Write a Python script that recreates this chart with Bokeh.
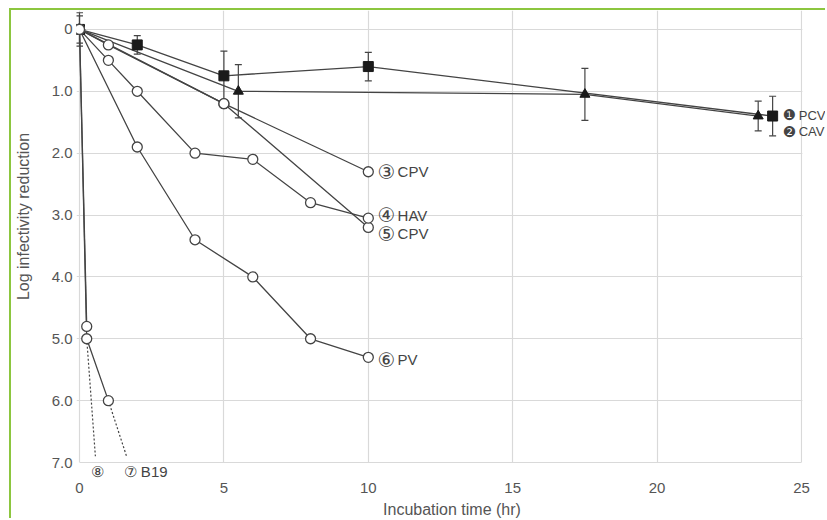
from bokeh.plotting import figure
from bokeh.models import (ColumnDataSource, Whisker, TeeHead, Label, Range1d,
                          FixedTicker, LinearAxis, BoxAnnotation)
from bokeh.embed import file_html
from bokeh.resources import INLINE

# ---- data ----
t_pcv = [0, 2, 5, 10, 24]
pcv = [0, 0.25, 0.75, 0.6, 1.4]
pcv_err = [0.27, 0.15, 0.4, 0.23, 0.32]

t_cav = [0, 5.5, 17.5, 23.5]
cav = [0, 1.0, 1.05, 1.4]
cav_err = [0.22, 0.43, 0.42, 0.24]

t_cpv3 = [0, 1, 5, 10]
cpv3 = [0, 0.25, 1.2, 2.3]

t_hav = [0, 1, 2, 4, 6, 8, 10]
hav = [0, 0.5, 1.0, 2.0, 2.1, 2.8, 3.05]

t_cpv5 = [0, 5, 10]
cpv5 = [0, 1.2, 3.2]

t_pv = [0, 2, 4, 6, 8, 10]
pv = [0, 1.9, 3.4, 4.0, 5.0, 5.3]

t_b19 = [0, 0.25, 1.0]
b19 = [0, 5.0, 6.0]
t_b19_dot = [1.0, 1.63]
b19_dot = [6.0, 6.9]

t_s8 = [0, 0.25]
s8 = [0, 4.8]
t_s8_dot = [0.25, 0.55]
s8_dot = [5.0, 6.9]

# in-plot curve labels
label_x = [24.35, 24.35, 10.32, 10.32, 10.32, 10.32]
label_y = [1.39, 1.65, 2.3, 3.0, 3.3, 5.34]
label_num = ["\u2776", "\u2777", "\u2462", "\u2463", "\u2464", "\u2465"]
label_name = ["PCV", "CAV", "CPV", "HAV", "CPV", "PV"]
label_dx = [16, 16, 20, 20, 20, 20]
label_size = ["13px", "13px", "15px", "15px", "15px", "15px"]
label_num_size = ["15px", "15px", "20px", "20px", "20px", "20px"]

# labels under the axis (B19 curves)
low_label_x = [0.62, 2.29]
low_label_text = ["\u2467", "\u2466 B19"]

x_ticks = [0, 5, 10, 15, 20, 25]
y_ticks = [0, 1, 2, 3, 4, 5, 6, 7]
y_tick_labels = ["0", "1.0", "2.0", "3.0", "4.0", "5.0", "6.0", "7.0"]

LINE = "#444444"
GRID = "#d9d9d9"
TXT = "#555555"
FONT = "Liberation Sans"
SYM_FONT = "DejaVu Sans"

p = figure(width=816, height=510, output_backend="svg", toolbar_location=None,
           x_range=Range1d(-0.104, 25.9), y_range=Range1d(7.0, -0.306),
           x_axis_location=None,
           min_border_left=65, min_border_right=0, min_border_top=0,
           min_border_bottom=57)
p.styles = {"margin-left": "9px", "margin-top": "8px",
            "border-left": "2px solid #8cc63f", "border-top": "2px solid #8cc63f"}
p.outline_line_color = None
p.background_fill_color = "white"
p.border_fill_color = "white"

# curve-label axis directly under the frame (carries the axis line)
lab_axis = LinearAxis(ticker=FixedTicker(ticks=low_label_x),
                      major_label_overrides={x: t for x, t in zip(low_label_x, low_label_text)},
                      axis_line_color=GRID, axis_line_width=1.2,
                      major_tick_line_color=None, minor_tick_line_color=None,
                      major_tick_out=0, major_tick_in=0,
                      major_label_standoff=0,
                      major_label_text_font=FONT, major_label_text_font_size="15px",
                      major_label_text_color=LINE, bounds=(x_ticks[0], x_ticks[-1]))
p.add_layout(lab_axis, "below")

xaxis = LinearAxis(ticker=FixedTicker(ticks=x_ticks), axis_line_color=None,
                   major_tick_line_color=None, minor_tick_line_color=None,
                   major_tick_out=0, major_tick_in=0,
                   major_label_standoff=0,
                   major_label_text_font=FONT, major_label_text_font_size="15px",
                   major_label_text_color=TXT,
                   axis_label="Incubation time (hr)", axis_label_standoff=5,
                   axis_label_text_font=FONT, axis_label_text_font_size="16px",
                   axis_label_text_font_style="normal", axis_label_text_color=TXT)
p.add_layout(xaxis, "below")

p.yaxis.ticker = FixedTicker(ticks=y_ticks)
p.yaxis.major_label_overrides = {t: l for t, l in zip(y_ticks, y_tick_labels)}
p.yaxis.major_label_text_font = FONT
p.yaxis.major_label_text_font_size = "15px"
p.yaxis.major_label_text_color = TXT
p.yaxis.axis_label = "\u00a0" * 9 + "Log infectivity reduction"
p.yaxis.axis_label_text_font = FONT
p.yaxis.axis_label_text_font_size = "16px"
p.yaxis.axis_label_text_font_style = "normal"
p.yaxis.axis_label_text_color = TXT
p.yaxis.minor_tick_line_color = None
p.yaxis.axis_line_color = None
p.yaxis.major_tick_line_color = None
p.yaxis.major_tick_out = 0
p.yaxis.major_tick_in = 0
p.yaxis.major_label_standoff = 4
p.yaxis.axis_label_standoff = 17

p.xgrid.grid_line_color = GRID
p.ygrid.grid_line_color = GRID
p.xgrid.ticker = FixedTicker(ticks=x_ticks)
p.ygrid.ticker = FixedTicker(ticks=y_ticks)
p.xgrid.grid_line_width = 1.2
p.ygrid.grid_line_width = 1.2

# blank out the grid to the right of the last tick (label margin)
p.add_layout(BoxAnnotation(left=x_ticks[-1] + 0.03, fill_color="white", fill_alpha=1,
                           line_color=None, level="underlay"))

# error bars
src_pcv = ColumnDataSource(dict(x=t_pcv, y=pcv,
                                lo=[a - b for a, b in zip(pcv, pcv_err)],
                                hi=[a + b for a, b in zip(pcv, pcv_err)]))
src_cav = ColumnDataSource(dict(x=t_cav, y=cav,
                                lo=[a - b for a, b in zip(cav, cav_err)],
                                hi=[a + b for a, b in zip(cav, cav_err)]))
for s in (src_pcv, src_cav):
    w = Whisker(source=s, base="x", lower="lo", upper="hi", dimension="height",
                line_color=LINE, line_width=1.2,
                upper_head=TeeHead(size=7, line_color=LINE, line_width=1.2),
                lower_head=TeeHead(size=7, line_color=LINE, line_width=1.2))
    p.add_layout(w)

# dotted extrapolations
p.line(t_b19_dot, b19_dot, line_color=LINE, line_width=1.2, line_dash="2 2")
p.line(t_s8_dot, s8_dot, line_color=LINE, line_width=1.2, line_dash="2 2")

# lines
for xs, ys in [(t_pv, pv), (t_b19, b19), (t_s8, s8), (t_cpv5, cpv5), (t_hav, hav),
               (t_cpv3, cpv3), (t_cav, cav), (t_pcv, pcv)]:
    p.line(xs, ys, line_color=LINE, line_width=1.3)

# markers
p.scatter(t_pcv, pcv, marker="square", size=10, fill_color="#1a1a1a", line_color="#1a1a1a")
p.scatter(t_cav, cav, marker="triangle", size=10, fill_color="#1a1a1a", line_color="#1a1a1a")
for xs, ys in [(t_pv, pv), (t_b19, b19), (t_s8, s8), (t_cpv5, cpv5), (t_hav, hav),
               (t_cpv3, cpv3)]:
    p.scatter(xs, ys, marker="circle", size=10, fill_color="white",
              line_color=LINE, line_width=1.3)

for lx, ly, num, name, dx, fs, ns in zip(label_x, label_y, label_num, label_name,
                                         label_dx, label_size, label_num_size):
    p.add_layout(Label(x=lx, y=ly, text=num, text_font=SYM_FONT, text_font_size=ns,
                       text_color=LINE, text_baseline="middle", text_align="left",
                       level="overlay"))
    p.add_layout(Label(x=lx, y=ly, x_offset=dx, text=name, text_font=FONT,
                       text_font_size=fs, text_color=LINE, text_baseline="middle",
                       text_align="left", level="overlay"))

open("out.html", "w").write(file_html(p, INLINE))
